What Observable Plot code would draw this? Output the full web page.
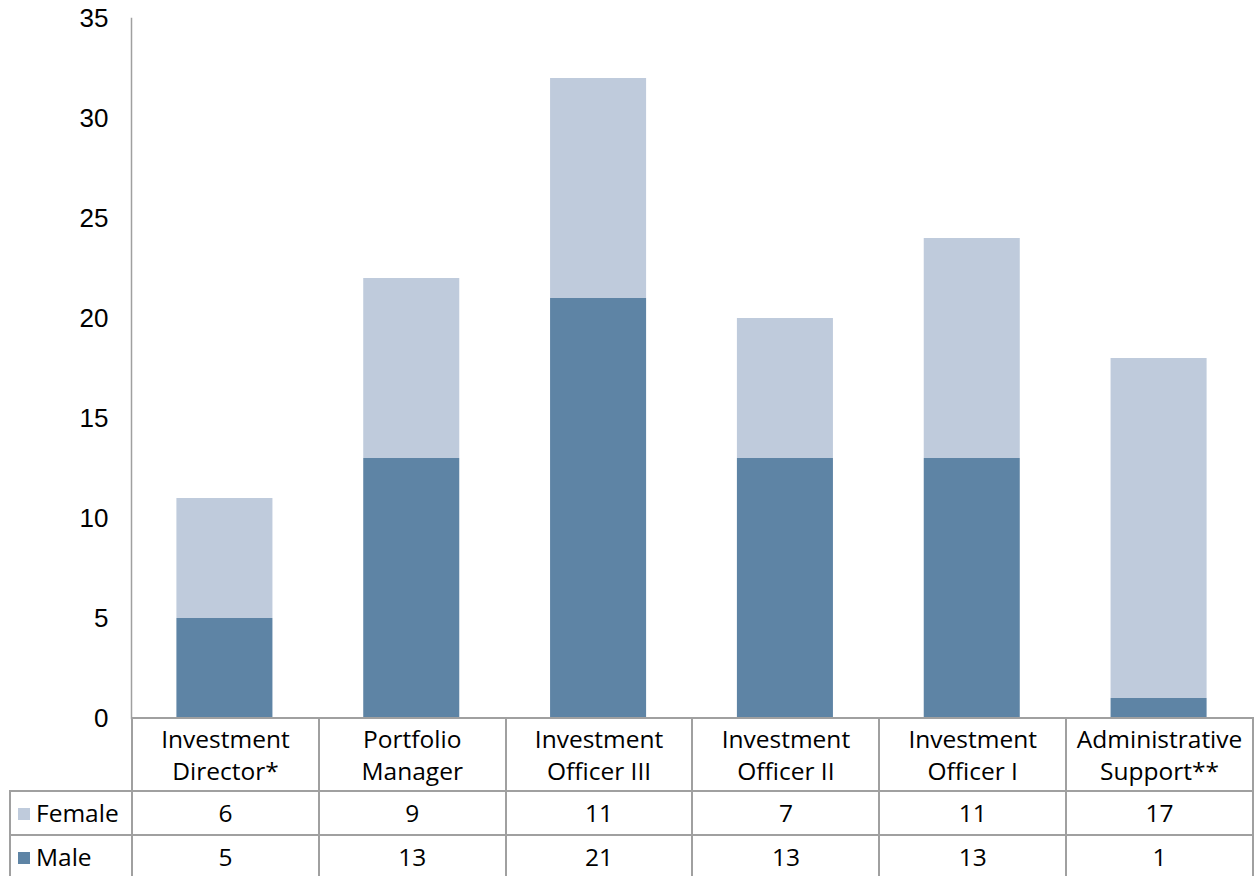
<!DOCTYPE html>
<html><head><meta charset="utf-8">
<script src="https://cdn.jsdelivr.net/npm/d3@7"></script>
<script src="https://cdn.jsdelivr.net/npm/@observablehq/plot@0.6"></script>
<style>
body{margin:0;background:#fff;}
#wrap{position:relative;width:1254px;height:876px;overflow:hidden;}
#wrap svg{position:absolute;left:0;top:0;}
table{position:absolute;left:9px;top:717px;border-collapse:collapse;font-family:"Open Sans",sans-serif;font-size:24.5px;color:#000;table-layout:fixed;}
td{border:2px solid #a0a0a0;text-align:center;padding:0;line-height:32px;}
td.lab{text-align:left;padding-left:7px;}
.sw{display:inline-block;width:12px;height:12px;margin-right:6px;vertical-align:2px;}
</style></head><body><div id="wrap"></div>
<script>
const categories = ["Investment Director*","Portfolio Manager","Investment Officer III","Investment Officer II","Investment Officer I","Administrative Support**"];
const categoryLines = [["Investment","Director*"],["Portfolio","Manager"],["Investment","Officer III"],["Investment","Officer II"],["Investment","Officer I"],["Administrative","Support**"]];
const female = [6,9,11,7,11,17];
const male = [5,13,21,13,13,1];
const series = ["Male","Female"];
const seriesColors = ["#5E84A5","#BFCBDC"];
const yTicks = [0,5,10,15,20,25,30,35];

const data = categories.flatMap((c,i)=>[
  {cat:c, series:"Male", value:male[i]},
  {cat:c, series:"Female", value:female[i]}
]);

const chart = Plot.plot({
  width:1254, height:735, marginLeft:131, marginRight:2, marginTop:18, marginBottom:17,
  x:{domain:categories, paddingInner:0.486, paddingOuter:0.243, round:false, axis:null},
  y:{domain:[0,35], ticks:yTicks, tickSize:0, tickPadding:23, label:null},
  color:{domain:series, range:seriesColors},
  style:{fontFamily:"Liberation Sans", fontSize:"26px", color:"#000", background:"transparent"},
  marks:[
    Plot.barY(data,{x:"cat", y:"value", fill:"series"}),
    Plot.frame({anchor:"left", stroke:"#a0a0a0", strokeWidth:1.5})
  ]
});
const wrap = document.getElementById("wrap");
wrap.appendChild(chart);

// data table below
const colW = (1252-131)/categories.length;
const table = document.createElement("table");
let html = `<colgroup><col style="width:122px">${categories.map(()=>`<col style="width:${colW}px">`).join("")}</colgroup>`;
html += `<tr style="height:73px"><td style="border:none"></td>${categoryLines.map(l=>`<td>${l.join("<br>")}</td>`).join("")}</tr>`;
const rows = [["Female", female, seriesColors[1], 44],["Male", male, seriesColors[0], 43]];
for (const [name, vals, col, h] of rows) {
  html += `<tr style="height:${h}px"><td class="lab"><span class="sw" style="background:${col}"></span>${name}</td>${vals.map(v=>`<td>${v}</td>`).join("")}</tr>`;
}
table.innerHTML = html;
wrap.appendChild(table);
</script>
</body></html>
